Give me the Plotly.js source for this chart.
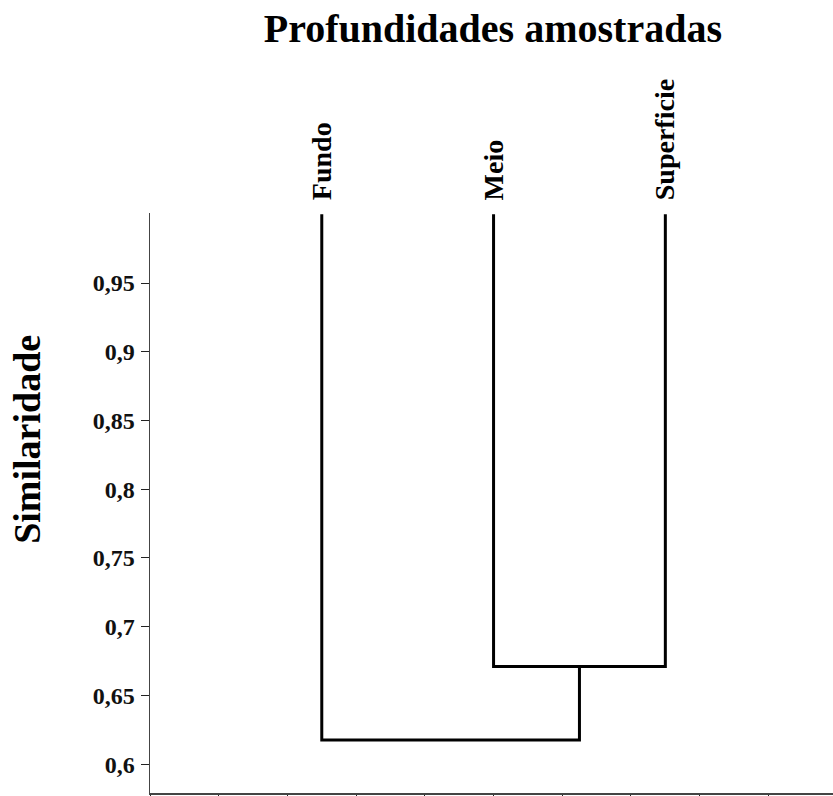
<!DOCTYPE html>
<html>
<head>
<meta charset="utf-8">
<script src="https://cdn.plot.ly/plotly-3.0.1.min.js"></script>
<style>html,body{margin:0;padding:0;background:#fff;}#chart{width:833px;height:796px;}</style>
</head>
<body>
<div id="chart"></div>
<script>
// Leaves of the dendrogram (sampled depths) and their positions along the x axis
const leaves = ['Fundo', 'Meio', 'Superficie'];
const leafPositions = [2.5, 5, 7.5];
const leafHeights = [1.0, 1.0, 1.0];
// Merges: indices of the joined nodes (0..2 = leaves, 3.. = earlier merges) and similarity
const mergeLeft = [1, 0];
const mergeRight = [2, 3];
const mergeSimilarity = [0.671, 0.6175];
// Y axis ticks
const yTicks = [0.6, 0.65, 0.7, 0.75, 0.8, 0.85, 0.9, 0.95];
const yTitle = 'Similaridade';
const chartTitle = 'Profundidades amostradas';

const FONT = '"Liberation Serif", "Times New Roman", serif';

// Build node positions
const nodeX = leafPositions.slice();
const nodeY = leafHeights.slice();
const xs = [], ys = [];
for (let i = 0; i < mergeLeft.length; i++) {
  const a = mergeLeft[i], b = mergeRight[i], h = mergeSimilarity[i];
  xs.push(nodeX[a], nodeX[a], nodeX[b], nodeX[b], null);
  ys.push(nodeY[a], h, h, nodeY[b], null);
  nodeX.push((nodeX[a] + nodeX[b]) / 2);
  nodeY.push(h);
}

const traces = [{
  type: 'scatter',
  mode: 'lines',
  x: xs,
  y: ys,
  line: {color: '#000', width: 3},
  hoverinfo: 'skip',
  cliponaxis: false,
  showlegend: false
}];

const annotations = leaves.map((name, i) => ({
  x: leafPositions[i],
  y: leafHeights[i],
  xref: 'x', yref: 'y',
  text: '<b>' + name + '</b>',
  textangle: -90,
  showarrow: false,
  xanchor: 'center',
  yanchor: 'bottom',
  yshift: 12,
  font: {family: FONT, size: 28, color: '#000'}
}));

// Y axis title, placed above the centre of the axis as in the original
annotations.push({
  xref: 'paper', yref: 'paper',
  x: -0.18, y: 0.609,
  xanchor: 'center', yanchor: 'middle',
  text: '<b>' + yTitle + '</b>',
  textangle: -90,
  showarrow: false,
  font: {family: FONT, size: 38, color: '#000'}
});

const layout = {
  width: 833,
  height: 796,
  separators: ',.',
  paper_bgcolor: '#fff',
  plot_bgcolor: '#fff',
  margin: {l: 150, r: 0, t: 213, b: 3, pad: 0},
  title: {
    text: '<b>' + chartTitle + '</b>',
    font: {family: FONT, size: 40, color: '#000'},
    x: 0.502, xref: 'paper', xanchor: 'center',
    y: 0.965, yref: 'container', yanchor: 'middle'
  },
  xaxis: {
    range: [0, 9.94],
    showgrid: false,
    zeroline: false,
    showline: true,
    linecolor: '#444',
    linewidth: 1.5,
    ticks: 'outside',
    tick0: 0,
    dtick: 1,
    ticklen: 6,
    tickcolor: '#222',
    showticklabels: false
  },
  yaxis: {
    range: [0.579, 1.001],
    showgrid: false,
    zeroline: false,
    showline: true,
    linecolor: '#444',
    linewidth: 1.5,
    ticks: 'outside',
    tickvals: yTicks,
    ticklen: 8,
    tickcolor: '#222',
    ticklabelstandoff: 1,
    tickfont: {family: FONT, size: 24, color: '#111', weight: 'bold'}
  },
  annotations: annotations
};

Plotly.newPlot('chart', traces, layout, {staticPlot: true, displayModeBar: false});
</script>
</body>
</html>
